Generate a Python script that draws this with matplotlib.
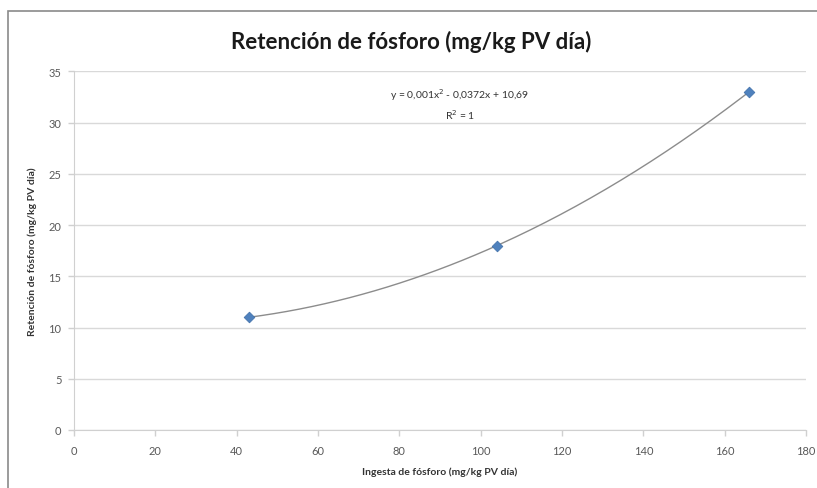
import matplotlib.pyplot as plt
import matplotlib.patches as patches
import numpy as np

# Data
ingesta = [43, 104, 166]
retencion = [11, 18, 33]
xticks = list(range(0, 181, 20))
yticks = list(range(0, 36, 5))

plt.rcParams['font.family'] = ['Lato', 'DejaVu Sans']

fig = plt.figure(figsize=(8.17, 4.89), dpi=100)
W, H = 817, 489

# chart border (Excel style frame)
fig.patches.append(patches.Rectangle((8 / W, -0.05), 1.2, 1 - 12 / H + 0.05,
                                     transform=fig.transFigure, fill=False,
                                     edgecolor='#8a8a8a', linewidth=1.2))

ax = fig.add_axes([74 / W, 1 - 431 / H, (806 - 74) / W, (431 - 72.4) / H])

# polynomial trendline (order 2), as Excel does
coef = np.polyfit(ingesta, retencion, 2)
xs = np.linspace(min(ingesta), max(ingesta), 200)
ax.plot(xs, np.polyval(coef, xs), color='#8c8c8c', linewidth=1.0, zorder=2)

ax.scatter(ingesta, retencion, marker='D', s=30, color='#4F81BD', zorder=3,
           edgecolors='#3e6ea8', linewidths=0.5)

ax.set_xlim(0, 180)
ax.set_ylim(0, 35)
ax.set_xticks(xticks)
ax.set_yticks(yticks)
ax.yaxis.grid(True, color='#d9d9d9', linewidth=1.0)
ax.set_axisbelow(True)
for s in ['top', 'right']:
    ax.spines[s].set_visible(False)
ax.spines['left'].set_color('#d0d0d0')
ax.spines['bottom'].set_color('#d0d0d0')
ax.tick_params(axis='both', colors='#d0d0d0', labelcolor='#595959', labelsize=8,
               length=4, width=1.0)
ax.tick_params(axis='x', pad=7)
ax.tick_params(axis='y', pad=5)

ax.set_xlabel('Ingesta de fósforo (mg/kg PV día)', fontsize=7.5, fontweight='bold',
              color='#333333', labelpad=7)
ax.set_ylabel('Retención de fósforo (mg/kg PV día)', fontsize=7.5, fontweight='bold',
              color='#333333', labelpad=8)

fig.text(411 / W, 1 - 42 / H, 'Retención de fósforo (mg/kg PV día)', ha='center',
         va='center', fontsize=16, fontweight='bold', color='#1a1a1a')

ax.text(0.527, 0.91, 'y = 0,001x$^2$ - 0,0372x + 10,69\nR$^2$ = 1', transform=ax.transAxes,
        ha='center', va='center', fontsize=7.5, color='#333333', linespacing=1.5)

plt.savefig('out.png', dpi=100)
